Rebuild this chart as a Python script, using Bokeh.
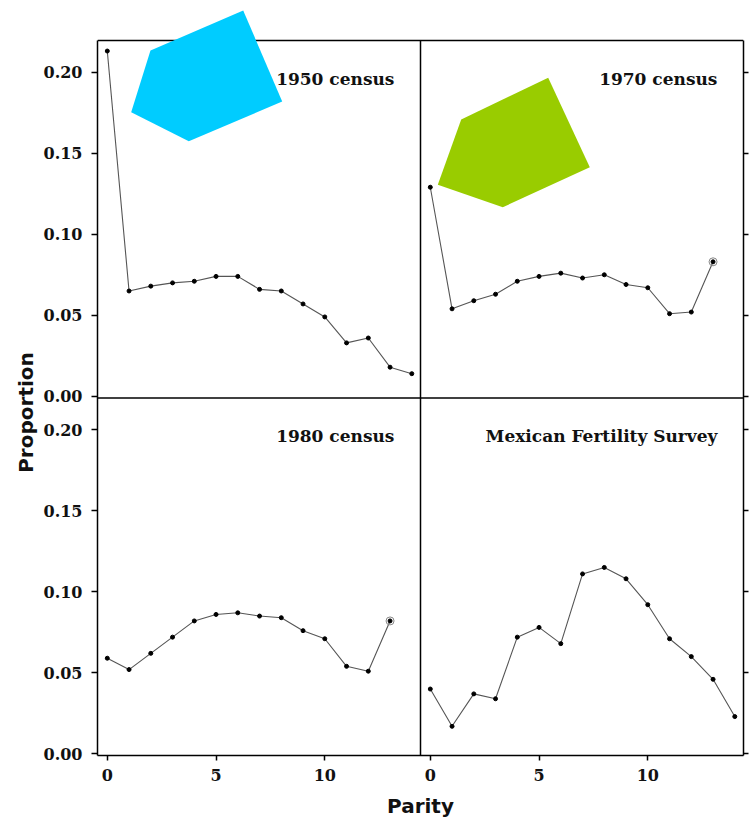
import math
from bokeh.plotting import figure
from bokeh.layouts import row
from bokeh.models import (Range1d, LinearAxis, FixedTicker, Span, PolyAnnotation,
                          CustomJSTickFormatter)
from bokeh.core.properties import value
from bokeh.embed import file_html
from bokeh.resources import INLINE

# ---------------- data ----------------
parity_1950 = list(range(15))
prop_1950 = [0.213, 0.065, 0.068, 0.070, 0.071, 0.074, 0.074, 0.066, 0.065,
             0.057, 0.049, 0.033, 0.036, 0.018, 0.014]
parity_1970 = list(range(14))
prop_1970 = [0.129, 0.054, 0.059, 0.063, 0.071, 0.074, 0.076, 0.073, 0.075,
             0.069, 0.067, 0.051, 0.052, 0.083]
parity_1980 = list(range(14))
prop_1980 = [0.059, 0.052, 0.062, 0.072, 0.082, 0.086, 0.087, 0.085, 0.084,
             0.076, 0.071, 0.054, 0.051, 0.082]
parity_mfs = list(range(15))
prop_mfs = [0.040, 0.017, 0.037, 0.034, 0.072, 0.078, 0.068, 0.111, 0.115,
            0.108, 0.092, 0.071, 0.060, 0.046, 0.023]

ringed_1970 = [13]
ringed_1980 = [13]

titles = ["1950 census", "1970 census", "1980 census", "Mexican Fertility Survey"]
y_ticks = [0.0, 0.05, 0.10, 0.15, 0.20]
x_ticks = [0, 5, 10]
x_label = "Parity"
y_label = "Proportion"

# ---------------- layout constants (pixels) ----------------
H = 820
LAB_W = 40                                            # strip for the y title
W = 750 - LAB_W
F_LEFT, F_RIGHT, F_TOP, F_BOTTOM = 97, 743, 8, 755   # frame edges on the page
PANEL_W = (F_RIGHT - F_LEFT) / 2                      # 323 px
PANEL_H = 357.5                                       # each panel's height
EXTRA_TOP = (F_BOTTOM - F_TOP) - 2 * PANEL_H          # blank band above panels

# panel domains (shared by all four panels)
ylo, yhi = -0.001, 0.2195
sy = yhi - ylo
xlo, xhi = -0.45, 14.4
sx = xhi - xlo
px_x = PANEL_W / sx
px_y = PANEL_H / sy
y_total = sy * (2 + EXTRA_TOP / PANEL_H)

# default ranges = left / bottom panels; extra ranges = right / top panels
p = figure(width=W, height=H, output_backend="svg", toolbar_location=None,
           x_range=Range1d(xlo, xlo + 2 * sx), y_range=Range1d(ylo, ylo + y_total),
           x_axis_type=None, y_axis_type=None,
           min_border_left=F_LEFT - LAB_W, min_border_right=750 - F_RIGHT,
           min_border_top=F_TOP, min_border_bottom=H - F_BOTTOM)
p.extra_x_ranges = {"xr": Range1d(xlo - sx, xlo + sx)}
p.extra_y_ranges = {"yt": Range1d(ylo - sy, ylo - sy + y_total)}
p.outline_line_color = None
p.background_fill_color = "white"
p.border_fill_color = "white"

FONT = "DejaVu Serif"


def style_axis(ax):
    ax.axis_line_color = "black"
    ax.axis_line_width = 1.5
    ax.major_tick_line_color = "black"
    ax.major_tick_line_width = 1.5
    ax.major_tick_out = 6
    ax.major_tick_in = 0
    ax.minor_tick_out = 0
    ax.minor_tick_in = 0
    ax.major_label_text_font = FONT
    ax.major_label_text_font_style = "bold"
    ax.major_label_text_font_size = "16px"
    ax.major_label_text_color = "#111111"


y_all = y_ticks + [t + sy for t in y_ticks]
y_fmt = CustomJSTickFormatter(args=dict(hi=yhi, off=sy), code="""
    let v = tick > hi ? tick - off : tick;
    if (Math.abs(v) < 1e-9) { v = 0; }
    return v.toFixed(2);
""")
x_all = x_ticks + [t + sx for t in x_ticks]
x_fmt = CustomJSTickFormatter(args=dict(hi=xhi, off=sx), code="""
    const v = tick > hi ? tick - off : tick;
    return Math.round(v).toString();
""")

# left axis (both left panels)
lax = LinearAxis(ticker=FixedTicker(ticks=y_all), formatter=y_fmt,
                 bounds=(ylo, ylo + 2 * sy))
style_axis(lax)
lax.major_label_standoff = 9
p.add_layout(lax, "left")

# right axis: ticks only
rax = LinearAxis(ticker=FixedTicker(ticks=y_all),
                 formatter=CustomJSTickFormatter(code="return '';"),
                 bounds=(ylo, ylo + 2 * sy))
style_axis(rax)
rax.major_tick_out = 5
rax.major_label_standoff = 0
p.add_layout(rax, "right")

# bottom axis (both bottom panels), carrying the shared x title
bax = LinearAxis(ticker=FixedTicker(ticks=x_all), formatter=x_fmt,
                 axis_label=x_label)
style_axis(bax)
bax.major_tick_out = 5
bax.major_label_standoff = 8
bax.axis_label_standoff = 10
bax.axis_label_text_font = "DejaVu Sans"
bax.axis_label_text_font_style = "bold"
bax.axis_label_text_font_size = "20px"
bax.axis_label_text_color = "#111111"
p.add_layout(bax, "below")

# panel borders: top edge, middle dividers
p.add_layout(Span(location=ylo + 2 * sy, dimension="width", line_color="black",
                  line_width=1.5))
p.add_layout(Span(location=yhi, dimension="width", line_color="black",
                  line_width=1.5))
p.segment(x0=[xhi], y0=[ylo], x1=[xhi], y1=[ylo + 2 * sy], line_color="black",
          line_width=1.5)

panels = [
    (parity_1950, prop_1950, "default", "yt", titles[0], []),
    (parity_1970, prop_1970, "xr", "yt", titles[1], ringed_1970),
    (parity_1980, prop_1980, "default", "default", titles[2], ringed_1980),
    (parity_mfs, prop_mfs, "xr", "default", titles[3], []),
]

for xs, ys, xr, yr, title, ringed in panels:
    p.line(xs, ys, x_range_name=xr, y_range_name=yr, line_color="#555555",
           line_width=1.1)
    p.scatter(xs, ys, x_range_name=xr, y_range_name=yr, size=4,
              fill_color="black", line_color="black")
    if ringed:
        p.scatter([xs[i] for i in ringed], [ys[i] for i in ringed],
                  x_range_name=xr, y_range_name=yr, marker="circle", size=8,
                  fill_color=None, line_color="#888888", line_width=1)
    p.text(x=[13.2], y=[0.196], text=[title], x_range_name=xr, y_range_name=yr,
           text_align="right", text_baseline="middle", text_font=value(FONT),
           text_font_style="bold", text_font_size="17px", text_color="#111111")


# overlay shapes, vertices given in page pixels
def to_units(pts):
    xs = [xlo + (px - F_LEFT) / px_x for px, _ in pts]
    ys = [ylo + (F_BOTTOM - py) / px_y for _, py in pts]
    return xs, ys


cyan_px = [(242.7, 10), (281.7, 101), (188.3, 140.7), (130.7, 111.7), (150, 50)]
green_px = [(547.7, 77.3), (589.3, 166.7), (502.3, 206.7), (437.3, 184.3), (460.7, 119)]
cx, cy = to_units(cyan_px)
gx, gy = to_units(green_px)
p.add_layout(PolyAnnotation(xs=cx, ys=cy, fill_color="#00CCFF", fill_alpha=1.0,
                            line_color=None))
p.add_layout(PolyAnnotation(xs=gx, ys=gy, fill_color="#99CC00", fill_alpha=1.0,
                            line_color=None))

# narrow strip holding the shared, rotated y title; its frame matches the
# main frame vertically, and its y range is measured in pixels from the bottom
lab = figure(width=LAB_W, height=H, output_backend="svg", toolbar_location=None,
             x_range=Range1d(0, LAB_W), y_range=Range1d(H - F_BOTTOM, H - F_TOP),
             x_axis_type=None, y_axis_type=None,
             min_border_left=0, min_border_right=0,
             min_border_top=F_TOP, min_border_bottom=H - F_BOTTOM)
lab.outline_line_color = None
lab.border_fill_color = "white"
lab.background_fill_color = "white"
lab.text(x=[25], y=[H - 412], text=[y_label], angle=math.pi / 2,
         text_align="center", text_baseline="middle",
         text_font=value("DejaVu Sans"), text_font_style="bold",
         text_font_size="20px", text_color="#111111")

layout = row(lab, p, spacing=0)
open("out.html", "w").write(file_html(layout, INLINE))
